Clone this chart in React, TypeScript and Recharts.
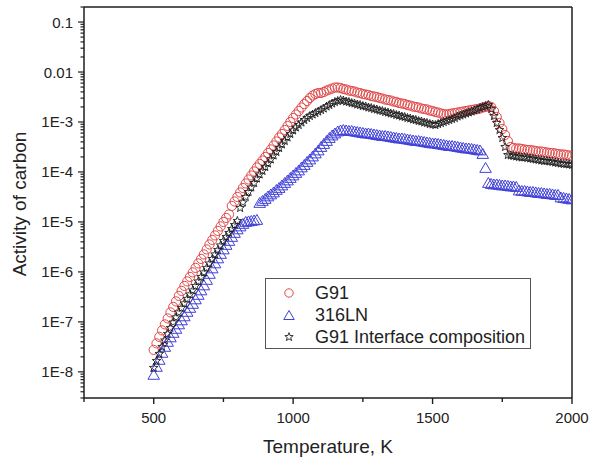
import React from 'react';
import { ScatterChart, Scatter, XAxis, YAxis, ReferenceLine, Legend } from 'recharts';

// temperatures, K (one reading every 10 K)
const temperatures = [
  500, 510, 520, 530, 540, 550, 560, 570, 580, 590,
  600, 610, 620, 630, 640, 650, 660, 670, 680, 690,
  700, 710, 720, 730, 740, 750, 760, 770, 780, 790,
  800, 810, 820, 830, 840, 850, 860, 870, 880, 890,
  900, 910, 920, 930, 940, 950, 960, 970, 980, 990,
  1000, 1010, 1020, 1030, 1040, 1050, 1060, 1070, 1080, 1090,
  1100, 1110, 1120, 1130, 1140, 1150, 1160, 1170, 1180, 1190,
  1200, 1210, 1220, 1230, 1240, 1250, 1260, 1270, 1280, 1290,
  1300, 1310, 1320, 1330, 1340, 1350, 1360, 1370, 1380, 1390,
  1400, 1410, 1420, 1430, 1440, 1450, 1460, 1470, 1480, 1490,
  1500, 1510, 1520, 1530, 1540, 1550, 1560, 1570, 1580, 1590,
  1600, 1610, 1620, 1630, 1640, 1650, 1660, 1670, 1680, 1690,
  1700, 1710, 1720, 1730, 1740, 1750, 1760, 1770, 1780, 1790,
  1800, 1810, 1820, 1830, 1840, 1850, 1860, 1870, 1880, 1890,
  1900, 1910, 1920, 1930, 1940, 1950, 1960, 1970, 1980, 1990,
  2000,
];

// log10(activity of carbon)
const g91Log = [
  -7.56, -7.43, -7.30, -7.17, -7.05, -6.93, -6.81, -6.70, -6.59, -6.48,
  -6.38, -6.28, -6.19, -6.10, -6.01, -5.92, -5.83, -5.74, -5.65, -5.55,
  -5.45, -5.36, -5.27, -5.18, -5.09, -5.00, -4.92, -4.85, -4.68, -4.59,
  -4.50, -4.41, -4.32, -4.23, -4.15, -4.07, -3.99, -3.91, -3.84, -3.77,
  -3.70, -3.62, -3.55, -3.47, -3.39, -3.31, -3.24, -3.16, -3.08, -3.00,
  -2.92, -2.85, -2.78, -2.71, -2.64, -2.58, -2.52, -2.47, -2.44, -2.42,
  -2.42, -2.40, -2.37, -2.35, -2.33, -2.31, -2.31, -2.32, -2.34, -2.35,
  -2.37, -2.38, -2.39, -2.41, -2.42, -2.44, -2.45, -2.46, -2.48, -2.49,
  -2.50, -2.52, -2.53, -2.55, -2.56, -2.57, -2.59, -2.60, -2.62, -2.63,
  -2.64, -2.66, -2.67, -2.69, -2.70, -2.71, -2.73, -2.74, -2.75, -2.77,
  -2.78, -2.80, -2.81, -2.83, -2.84, -2.85, -2.84, -2.83, -2.82, -2.81,
  -2.80, -2.79, -2.78, -2.77, -2.76, -2.75, -2.74, -2.73, -2.71, -2.70,
  -2.68, -2.70, -2.78, -2.90, -3.02, -3.14, -3.26, -3.38, -3.50, -3.52,
  -3.53, -3.53, -3.54, -3.55, -3.56, -3.56, -3.57, -3.58, -3.59, -3.59,
  -3.60, -3.61, -3.62, -3.62, -3.63, -3.64, -3.65, -3.65, -3.66, -3.67,
  -3.68,
];

const ss316lnLog = [
  -8.06, -7.90, -7.76, -7.62, -7.50, -7.40, -7.31, -7.22, -7.14, -7.05,
  -6.97, -6.89, -6.80, -6.72, -6.64, -6.55, -6.46, -6.37, -6.27, -6.16,
  -6.04, -5.93, -5.83, -5.73, -5.64, -5.55, -5.46, -5.38, -5.30, -5.22,
  -5.15, -5.09, -5.04, -5.00, -4.99, -4.98, -4.97, -4.96, -4.62, -4.58,
  -4.54, -4.49, -4.45, -4.41, -4.36, -4.32, -4.27, -4.22, -4.17, -4.12,
  -4.07, -4.02, -3.97, -3.91, -3.86, -3.80, -3.75, -3.69, -3.63, -3.57,
  -3.50, -3.44, -3.38, -3.32, -3.27, -3.23, -3.19, -3.17, -3.16, -3.17,
  -3.18, -3.18, -3.19, -3.20, -3.21, -3.22, -3.23, -3.23, -3.24, -3.25,
  -3.26, -3.27, -3.28, -3.28, -3.29, -3.30, -3.31, -3.32, -3.33, -3.33,
  -3.34, -3.35, -3.36, -3.37, -3.38, -3.38, -3.39, -3.40, -3.41, -3.42,
  -3.43, -3.43, -3.44, -3.45, -3.46, -3.47, -3.48, -3.48, -3.49, -3.50,
  -3.51, -3.52, -3.53, -3.53, -3.54, -3.55, -3.56, -3.57, -3.64, -3.92,
  -4.22, -4.24, -4.25, -4.25, -4.26, -4.27, -4.27, -4.28, -4.29, -4.29,
  -4.30, -4.37, -4.38, -4.38, -4.39, -4.40, -4.40, -4.41, -4.42, -4.42,
  -4.43, -4.44, -4.44, -4.45, -4.46, -4.46, -4.51, -4.52, -4.53, -4.54,
  -4.55,
];

const interfaceLog = [
  -7.92, -7.78, -7.64, -7.50, -7.37, -7.24, -7.12, -7.01, -6.91, -6.81,
  -6.72, -6.63, -6.54, -6.45, -6.37, -6.28, -6.19, -6.10, -6.01, -5.92,
  -5.83, -5.74, -5.65, -5.56, -5.47, -5.38, -5.30, -5.22, -5.14, -5.06,
  -4.98, -4.72, -4.61, -4.50, -4.40, -4.31, -4.22, -4.13, -4.05, -3.98,
  -3.90, -3.83, -3.75, -3.67, -3.60, -3.52, -3.45, -3.38, -3.31, -3.24,
  -3.17, -3.11, -3.06, -3.01, -2.96, -2.92, -2.88, -2.85, -2.82, -2.79,
  -2.76, -2.73, -2.69, -2.66, -2.63, -2.60, -2.58, -2.56, -2.57, -2.59,
  -2.60, -2.62, -2.63, -2.65, -2.66, -2.68, -2.69, -2.71, -2.72, -2.74,
  -2.75, -2.77, -2.78, -2.80, -2.81, -2.83, -2.84, -2.86, -2.87, -2.89,
  -2.90, -2.92, -2.93, -2.95, -2.96, -2.98, -2.99, -3.01, -3.02, -3.04,
  -3.05, -3.06, -3.04, -3.02, -3.00, -2.98, -2.96, -2.94, -2.92, -2.89,
  -2.87, -2.85, -2.83, -2.81, -2.79, -2.77, -2.75, -2.72, -2.70, -2.68,
  -2.66, -2.74, -2.88, -3.02, -3.16, -3.32, -3.50, -3.66, -3.67, -3.68,
  -3.69, -3.70, -3.71, -3.71, -3.72, -3.73, -3.74, -3.75, -3.76, -3.77,
  -3.78, -3.78, -3.79, -3.80, -3.81, -3.82, -3.83, -3.84, -3.84, -3.85,
  -3.86,
];

const seriesNames = ['G91', '316LN', 'G91 Interface composition'];

const xTicks = [250, 500, 750, 1000, 1250, 1500, 1750, 2000];
const xTickLabels = ['', '500', '', '1000', '', '1500', '', '2000'];

const yMajorTicks = [1e-8, 1e-7, 1e-6, 1e-5, 1e-4, 1e-3, 0.01, 0.1];
const yTickLabels = ['1E-8', '1E-7', '1E-6', '1E-5', '1E-4', '1E-3', '0.01', '0.1'];
const yMinorFactors = [2, 3, 4, 5, 6, 7, 8, 9];

const X_DOMAIN: [number, number] = [250, 2000];
const Y_DOMAIN: [number, number] = [3e-9, 0.2];

const yTicks = [
  ...yMinorFactors.map((f) => 1e-9 * f),
  ...yMajorTicks.flatMap((m) => [m, ...yMinorFactors.map((f) => m * f)]),
].filter((v) => v >= Y_DOMAIN[0] && v <= Y_DOMAIN[1]);

const FONT = "'Liberation Sans', Arial, Helvetica, sans-serif";
const AXIS = '#1e1e1e';
const RED = '#e04a4a';
const BLUE = '#4141d8';
const BLACK = '#1c1c1c';

const toData = (logs: number[]) => temperatures.map((t, i) => ({ t, a: 10 ** logs[i] }));

const g91Data = toData(g91Log);
const ss316lnData = toData(ss316lnLog);
const interfaceData = toData(interfaceLog);

const starPoints = (cx: number, cy: number, R: number, r: number) => {
  const pts: string[] = [];
  for (let i = 0; i < 10; i++) {
    const ang = (-90 + i * 36) * (Math.PI / 180);
    const rad = i % 2 === 0 ? R : r;
    pts.push(`${cx + rad * Math.cos(ang)},${cy + rad * Math.sin(ang)}`);
  }
  return pts.join(' ');
};

const Circle = ({ cx, cy, r = 4.6 }: any) => (
  <circle cx={cx} cy={cy} r={r} fill="none" stroke={RED} strokeWidth={1} />
);

const Triangle = ({ cx, cy, s = 5.5 }: any) => (
  <polygon
    points={`${cx},${cy - s} ${cx - s * 1.05},${cy + s * 0.8} ${cx + s * 1.05},${cy + s * 0.8}`}
    fill="none"
    stroke={BLUE}
    strokeWidth={1}
  />
);

const Star = ({ cx, cy, R = 4.5 }: any) => (
  <polygon points={starPoints(cx, cy, R, R * 0.42)} fill="none" stroke={BLACK} strokeWidth={0.9} />
);

const XTick = (props: any) => {
  const { x, y, index } = props;
  const label = xTickLabels[index] ?? '';
  const major = label !== '';
  return (
    <g>
      <line x1={x} x2={x} y1={y} y2={y + (major ? 6 : 4)} stroke={AXIS} strokeWidth={1.4} />
      {major && (
        <text x={x} y={y + 25} textAnchor="middle" fontSize={15} fontFamily={FONT} fill="#222">
          {label}
        </text>
      )}
    </g>
  );
};

const YTick = (props: any) => {
  const { x, y, payload } = props;
  const v = payload.value as number;
  const idx = yMajorTicks.findIndex((m) => Math.abs(v / m - 1) < 1e-6);
  const major = idx >= 0;
  return (
    <g>
      <line x1={x - (major ? 6 : 3.5)} x2={x} y1={y} y2={y} stroke={AXIS} strokeWidth={1.2} />
      {major && (
        <text x={x - 11} y={y + 5.5} textAnchor="end" fontSize={15} fontFamily={FONT} fill="#222">
          {yTickLabels[idx]}
        </text>
      )}
    </g>
  );
};

const legendIcon = (name: string) => {
  if (name === seriesNames[0]) return <Circle cx={8} cy={8} r={4.2} />;
  if (name === seriesNames[1]) return <Triangle cx={8} cy={8.5} s={5} />;
  return <Star cx={8} cy={8} R={4.4} />;
};

const renderLegend = () => (
  <div
    style={{
      boxSizing: 'border-box',
      width: 266,
      height: 71,
      border: '1px solid #555',
      background: '#fff',
      paddingTop: 3,
      fontFamily: FONT,
      fontSize: 18,
      color: '#222',
    }}
  >
    {seriesNames.map((name) => (
      <div key={name} style={{ display: 'flex', alignItems: 'center', height: 22 }}>
        <svg width={16} height={16} style={{ marginLeft: 15, marginRight: 18 }}>
          {legendIcon(name)}
        </svg>
        <span style={{ lineHeight: '22px' }}>{name}</span>
      </div>
    ))}
  </div>
);

export default function App() {
  return (
    <div style={{ width: 596, height: 461, background: '#fff' }}>
      <style>{'body{margin:0;}'}</style>
      <ScatterChart width={596} height={461} margin={{ top: 7, right: 24, bottom: 0, left: 0 }}>
        <XAxis
          type="number"
          dataKey="t"
          domain={X_DOMAIN}
          ticks={xTicks}
          interval={0}
          allowDataOverflow
          height={63}
          tickSize={0}
          tickMargin={0}
          tickLine={false}
          axisLine={{ stroke: AXIS, strokeWidth: 1.5 }}
          tick={<XTick />}
          label={{
            content: () => (
              <text x={328} y={453} textAnchor="middle" fontSize={19} fontFamily={FONT} fill="#222">
                Temperature, K
              </text>
            ),
          }}
        />
        <YAxis
          type="number"
          dataKey="a"
          scale="log"
          domain={Y_DOMAIN}
          ticks={yTicks}
          interval={0}
          allowDataOverflow
          width={84}
          tickSize={0}
          tickMargin={0}
          tickLine={false}
          axisLine={{ stroke: AXIS, strokeWidth: 1.5 }}
          tick={<YTick />}
          label={{
            content: () => (
              <text
                x={26}
                y={204}
                transform="rotate(-90 26 204)"
                textAnchor="middle"
                fontSize={19}
                fontFamily={FONT}
                fill="#222"
              >
                Activity of carbon
              </text>
            ),
          }}
        />
        <ReferenceLine y={Y_DOMAIN[1]} stroke={AXIS} strokeWidth={1.5} />
        <ReferenceLine x={X_DOMAIN[1]} stroke={AXIS} strokeWidth={1.5} />
        <Legend
          layout="vertical"
          align="center"
          verticalAlign="middle"
          content={renderLegend}
          wrapperStyle={{ position: 'absolute', left: 265, top: 278, width: 266, height: 71 }}
        />
        <Scatter name={seriesNames[0]} data={g91Data} shape={<Circle />} isAnimationActive={false} />
        <Scatter name={seriesNames[1]} data={ss316lnData} shape={<Triangle />} isAnimationActive={false} />
        <Scatter name={seriesNames[2]} data={interfaceData} shape={<Star />} isAnimationActive={false} />
      </ScatterChart>
    </div>
  );
}
